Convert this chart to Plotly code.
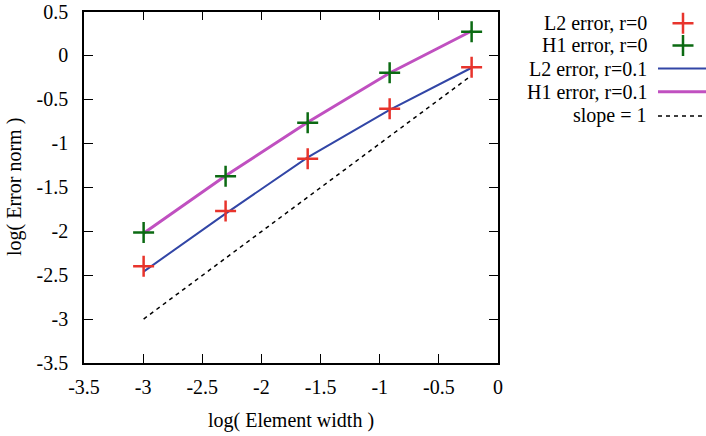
import plotly.graph_objects as go

# log of element width for the five meshes
log_h = [-2.996, -2.303, -1.609, -0.916, -0.223]

# errors with r = 0 (points)
l2_r0 = [-2.40, -1.77, -1.175, -0.606, -0.135]
h1_r0 = [-2.016, -1.375, -0.765, -0.196, 0.27]

# errors with r = 0.1 (lines)
l2_r01 = [-2.46, -1.80, -1.16, -0.62, -0.14]
h1_r01 = [-2.023, -1.37, -0.76, -0.20, 0.278]

# reference slope-1 line
slope_x = [-2.996, -0.223]
slope_y = [-3.0, -0.227]

tick_vals = [-3.5, -3, -2.5, -2, -1.5, -1, -0.5, 0, 0.5]
tick_text = ["-3.5", "-3", "-2.5", "-2", "-1.5", "-1", "-0.5", "0", "0.5"]

legend_labels = ["L2 error, r=0", "H1 error, r=0", "L2 error, r=0.1",
                 "H1 error, r=0.1", "slope = 1"]

RED = "#e8342c"
GREEN = "#0b6a12"
BLUE = "#3246a6"
MAGENTA = "#c050c0"
FONT = "Liberation Serif"
FS = 20

W, H = 706, 436
px0, px1, py0, py1 = 84, 498, 11.5, 363

# key box region (pixels)
KX0, KY1 = 600, 130

fig = go.Figure()

fig.add_trace(go.Scatter(x=log_h, y=l2_r01, mode="lines",
                         line=dict(color=BLUE, width=2)))
fig.add_trace(go.Scatter(x=log_h, y=h1_r01, mode="lines",
                         line=dict(color=MAGENTA, width=3)))
fig.add_trace(go.Scatter(x=slope_x, y=slope_y, mode="lines",
                         line=dict(color="black", width=1.5, dash="4px,4px")))
fig.add_trace(go.Scatter(x=log_h, y=l2_r0, mode="markers",
                         marker=dict(symbol="cross-thin", size=15,
                                     line=dict(color=RED, width=2.5))))
fig.add_trace(go.Scatter(x=log_h, y=h1_r0, mode="markers",
                         marker=dict(symbol="cross-thin", size=15,
                                     line=dict(color=GREEN, width=2.5))))

# key samples on a small pixel-coordinate axis pair
row_y = [23.3, 45.5, 68.5, 91.7, 116]
key = dict(xaxis="x2", yaxis="y2", cliponaxis=False)
fig.add_trace(go.Scatter(x=[683], y=[row_y[0]], mode="markers", **key,
                         marker=dict(symbol="cross-thin", size=15,
                                     line=dict(color=RED, width=2.5))))
fig.add_trace(go.Scatter(x=[683], y=[row_y[1]], mode="markers", **key,
                         marker=dict(symbol="cross-thin", size=15,
                                     line=dict(color=GREEN, width=2.5))))
fig.add_trace(go.Scatter(x=[658, 706], y=[row_y[2]] * 2, mode="lines", **key,
                         line=dict(color=BLUE, width=2)))
fig.add_trace(go.Scatter(x=[658, 706], y=[row_y[3]] * 2, mode="lines", **key,
                         line=dict(color=MAGENTA, width=3)))
fig.add_trace(go.Scatter(x=[658, 706], y=[row_y[4]] * 2, mode="lines", **key,
                         line=dict(color="black", width=1.5, dash="4px,4px")))

annotations = []
for label, yy in zip(legend_labels, row_y):
    annotations.append(dict(x=649 / W, y=1 - yy / H, xref="paper", yref="paper",
                            text=label, showarrow=False, xanchor="right",
                            yanchor="middle", font=dict(family=FONT, size=FS, color="black")))
annotations.append(dict(x=291 / W, y=1 - 420 / H, xref="paper", yref="paper",
                        text="log( Element width )", showarrow=False,
                        xanchor="center", yanchor="middle",
                        font=dict(family=FONT, size=FS, color="black")))
annotations.append(dict(x=15 / W, y=1 - 187 / H, xref="paper", yref="paper",
                        text="log( Error norm )", showarrow=False, textangle=-90,
                        xanchor="center", yanchor="middle",
                        font=dict(family=FONT, size=FS, color="black")))

axis_common = dict(showgrid=False, zeroline=False, showline=True, linecolor="black",
                   linewidth=1.5, mirror="ticks", ticks="inside", ticklen=9,
                   tickwidth=1, tickcolor="black", automargin=False,
                   tickfont=dict(family=FONT, size=FS, color="black"))

fig.update_layout(
    width=W, height=H,
    margin=dict(l=0, r=0, t=0, b=0),
    paper_bgcolor="white", plot_bgcolor="white",
    showlegend=False,
    xaxis=dict(range=[-3.5, 0], domain=[px0 / W, px1 / W],
               tickvals=tick_vals[:-1], ticktext=tick_text[:-1],
               ticklabelstandoff=5, **axis_common),
    yaxis=dict(range=[-3.5, 0.5], domain=[1 - py1 / H, 1 - py0 / H],
               tickvals=tick_vals, ticktext=tick_text,
               ticklabelstandoff=10, **axis_common),
    xaxis2=dict(range=[KX0, W], domain=[KX0 / W, 1], visible=False,
                anchor="y2", fixedrange=True, automargin=False),
    yaxis2=dict(range=[KY1, 0], domain=[1 - KY1 / H, 1], visible=False,
                anchor="x2", fixedrange=True, automargin=False),
    annotations=annotations,
)

fig.write_html("out.html")
